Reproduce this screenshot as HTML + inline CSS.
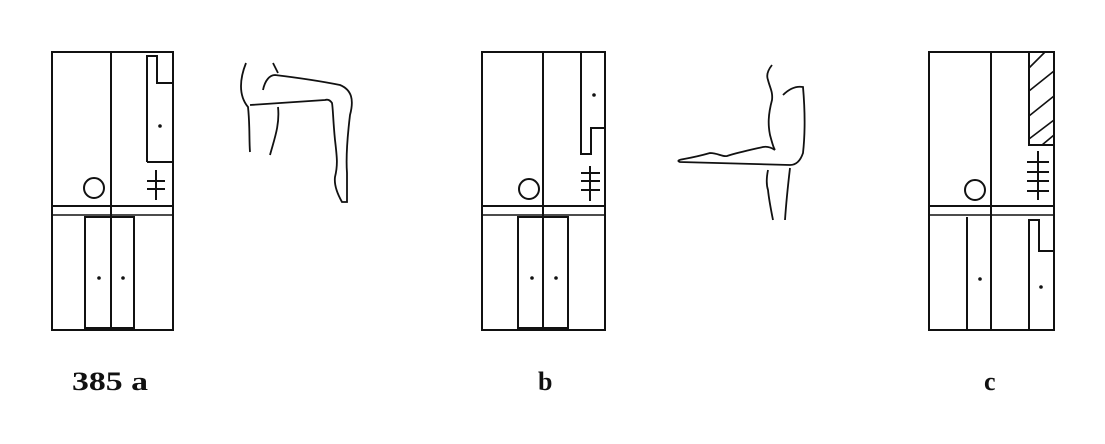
<!DOCTYPE html>
<html><head><meta charset="utf-8"><style>
html,body{margin:0;padding:0;background:#fff;width:1105px;height:444px;overflow:hidden}
svg{display:block}
text{font-family:"Liberation Serif",serif;font-weight:bold;font-size:26px;fill:#111}
</style></head><body>
<svg width="1105" height="444" viewBox="0 0 1105 444" stroke="#111" fill="none" stroke-width="2">
<g>
  <rect x="52" y="52" width="121" height="278"/>
  <line x1="111" y1="52" x2="111" y2="330"/>
  <line x1="52" y1="206" x2="173" y2="206"/>
  <line x1="52" y1="215" x2="173" y2="215" stroke-width="1.6"/>
  <rect x="85" y="217" width="49" height="111"/>
  <circle cx="94" cy="188" r="10"/>
  <path d="M147 162 V56 H157 V83 H173 M147 162 H173"/>
  <circle cx="160" cy="126" r="1.8" fill="#111" stroke="none"/>
  <path d="M156 170 V200 M147 181 H165 M147 189 H165"/>
  <circle cx="99" cy="278" r="1.8" fill="#111" stroke="none"/>
  <circle cx="123" cy="278" r="1.8" fill="#111" stroke="none"/>
  <path stroke-width="1.8" d="M246 63 C240 78,238 95,248 107 C250 125,249 140,250 152 M273 63 L278 73 M263 90 C265 80,270 75,275 75 C300 78,325 82,340 85 C352 90,354 100,350 115 C347 140,346 160,347 173 L347 202 L342 202 C338 195,334 185,335 177 C338 165,337 157,335 140 C333 120,333 108,332 103 C330 100,328 99,325 100 L250 105 M278 107 C280 125,274 140,270 155"/>
</g>
<g>
  <rect x="482" y="52" width="123" height="278"/>
  <line x1="543" y1="52" x2="543" y2="330"/>
  <line x1="482" y1="206" x2="605" y2="206"/>
  <line x1="482" y1="215" x2="605" y2="215" stroke-width="1.6"/>
  <rect x="518" y="217" width="50" height="111"/>
  <circle cx="529" cy="189" r="10"/>
  <path d="M581 52 V154 H591 V128 H605"/>
  <circle cx="594" cy="95" r="1.8" fill="#111" stroke="none"/>
  <path d="M590 166 V201 M581 173 H600 M581 181 H600 M581 190 H600"/>
  <circle cx="532" cy="278" r="1.8" fill="#111" stroke="none"/>
  <circle cx="556" cy="278" r="1.8" fill="#111" stroke="none"/>
  <path stroke-width="1.8" d="M772 65 C768 70,766 75,768 80 C770 88,773 92,772 100 C768 115,768 125,770 135 C772 142,773 147,775 150 M783 95 C790 88,797 86,803 87 C805 110,805 135,803 153 C800 162,795 165,790 165 L680 162 C677 161,678 160,684 159 C695 157,703 155,710 153 C718 153,722 157,727 156 C740 152,750 150,763 147 C768 146,772 148,775 150 M768 170 C766 180,767 187,768 190 C769 200,771 210,773 220 M790 168 C788 185,786 205,785 220"/>
</g>
<g>
  <rect x="929" y="52" width="125" height="278"/>
  <line x1="991" y1="52" x2="991" y2="330"/>
  <line x1="929" y1="206" x2="1054" y2="206"/>
  <line x1="929" y1="215" x2="1054" y2="215" stroke-width="1.6"/>
  <line x1="967" y1="217" x2="967" y2="330"/>
  <circle cx="975" cy="190" r="10"/>
  <rect x="1029" y="52" width="25" height="93"/>
  <path stroke-width="1.6" d="M1029 68 L1045 52 M1029 91 L1054 71 M1029 116 L1054 96 M1029 139 L1054 120 M1042 145 L1054 135"/>
  <path d="M1038 151 V200 M1027 162 H1049 M1027 172 H1049 M1027 181 H1049 M1027 191 H1049"/>
  <path d="M1029 330 V220 H1039 V251 H1054"/>
  <circle cx="1041" cy="287" r="1.8" fill="#111" stroke="none"/>
  <circle cx="980" cy="279" r="1.8" fill="#111" stroke="none"/>
</g>
<text x="72" y="390" stroke="none" textLength="76" lengthAdjust="spacingAndGlyphs">385 a</text>
<text x="538" y="390" stroke="none">b</text>
<text x="984" y="390" stroke="none">c</text>
</svg>
</body></html>
